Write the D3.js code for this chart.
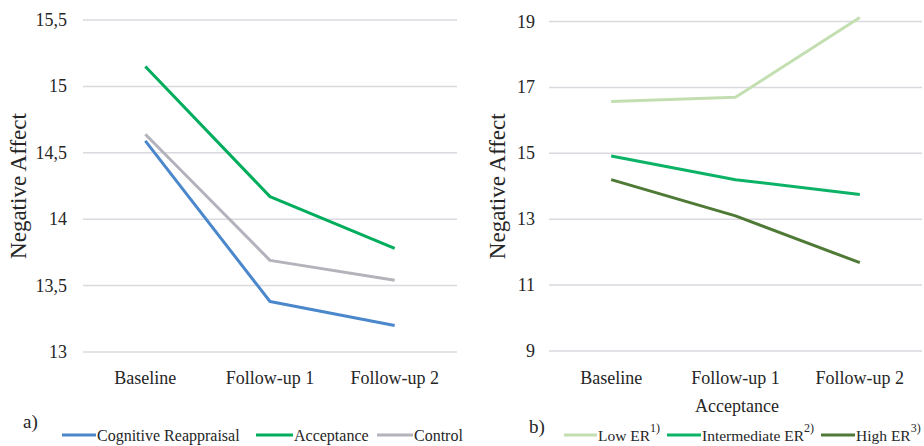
<!DOCTYPE html>
<html><head><meta charset="utf-8">
<script src="https://cdn.jsdelivr.net/npm/d3@7"></script>
</head><body style="margin:0;background:#fff;font-family:'Times New Roman','Liberation Serif',serif">
<svg id="c" width="924" height="446" style="font-family:'Times New Roman','Liberation Serif',serif"></svg>
<script>
const categories = ["Baseline", "Follow-up 1", "Follow-up 2"];
// panel a
const aTicks = [13, 13.5, 14, 14.5, 15, 15.5];
const cognitiveReappraisal = [14.59, 13.38, 13.20];
const acceptance = [15.15, 14.17, 13.78];
const control = [14.64, 13.69, 13.54];
// panel b
const bTicks = [9, 11, 13, 15, 17, 19];
const lowER = [16.57, 16.70, 19.12];
const intermediateER = [14.92, 14.20, 13.75];
const highER = [14.20, 13.10, 11.68];

const svg = d3.select("#c");
const fmt = d => String(d).replace(".", ",");
const FAM = "'Times New Roman', 'Liberation Serif', serif";
function T(parent, x, y, size, s) {
  return parent.append("text").attr("x", x).attr("y", y)
    .style("font-family", FAM)
    .style("font-size", size + "px").attr("fill", "#262626").text(s);
}

function panel(o) {
  const x = d3.scaleBand().domain(categories).range([o.x0, o.x1]);
  const y = d3.scaleLinear().domain(o.domain).range([o.yb, o.yt]);
  const g = svg.append("g");
  o.ticks.forEach(t => {
    g.append("line").attr("x1", o.x0).attr("x2", o.x1).attr("y1", y(t)).attr("y2", y(t))
      .attr("stroke", "#d9d9df").attr("stroke-width", 1.5);
    T(g, o.labX, y(t) + 6, 18, fmt(t)).attr("text-anchor", "end");
  });
  categories.forEach(c => {
    T(g, x(c) + x.bandwidth() / 2, o.catY, 18, c).attr("text-anchor", "middle");
  });
  T(g, 0, 0, 23, "Negative Affect")
    .attr("transform", `translate(${o.titleX + 8},${(o.yt + o.yb) / 2}) rotate(-90)`)
    .attr("text-anchor", "middle");
  const line = d3.line().x((d, i) => x(categories[i]) + x.bandwidth() / 2).y(d => y(d));
  o.series.forEach(s => {
    g.append("path").attr("d", line(s.values)).attr("fill", "none")
      .attr("stroke", s.color).attr("stroke-width", 3).attr("stroke-linejoin", "round");
  });
}

panel({x0: 83, x1: 457, yt: 20, yb: 352, domain: [13, 15.5], ticks: aTicks, labX: 67, catY: 384, titleX: 18,
  series: [
    {values: control, color: "#b4b3bb"},
    {values: cognitiveReappraisal, color: "#4a87cb"},
    {values: acceptance, color: "#00ad5c"}
  ]});
panel({x0: 549, x1: 922, yt: 21.5, yb: 351, domain: [9, 19], ticks: bTicks, labX: 535, catY: 384, titleX: 497,
  series: [
    {values: lowER, color: "#c3dfb1"},
    {values: intermediateER, color: "#0cb366"},
    {values: highER, color: "#4f7a36"}
  ]});

T(svg, 737, 412, 18, "Acceptance").attr("text-anchor", "middle");
T(svg, 23, 428, 19, "a)");
T(svg, 529, 433, 19, "b)");

const legA = [
  {name: "Cognitive Reappraisal", color: "#4a87cb", lx: 62, lx2: 96},
  {name: "Acceptance", color: "#00ad5c", lx: 256, lx2: 293},
  {name: "Control", color: "#b4b3bb", lx: 377, lx2: 413}
];
legA.forEach(l => {
  svg.append("line").attr("x1", l.lx).attr("x2", l.lx2).attr("y1", 435).attr("y2", 435)
    .attr("stroke", l.color).attr("stroke-width", 3);
  T(svg, l.lx2 + 1, 440.5, 16, l.name);
});
const legB = [
  {name: "Low ER", sup: "1)", color: "#c3dfb1", lx: 564, lx2: 597},
  {name: "Intermediate ER", sup: "2)", color: "#0cb366", lx: 667, lx2: 701},
  {name: "High ER", sup: "3)", color: "#4f7a36", lx: 821, lx2: 855}
];
legB.forEach(l => {
  svg.append("line").attr("x1", l.lx).attr("x2", l.lx2).attr("y1", 435).attr("y2", 435)
    .attr("stroke", l.color).attr("stroke-width", 3);
  const t = T(svg, l.lx2 + 1, 441, 15.5, null);
  t.append("tspan").text(l.name);
  t.append("tspan").attr("dy", -9).style("font-size", "12px").text(l.sup);
});
</script></body></html>
